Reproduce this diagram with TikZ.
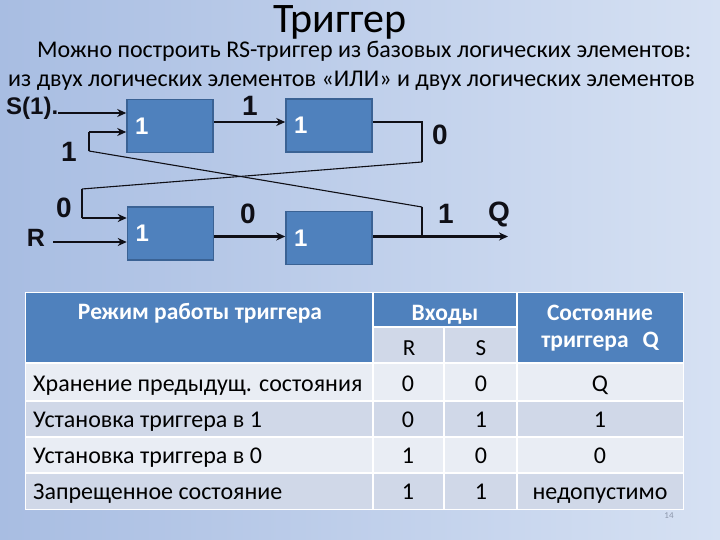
\documentclass[tikz,border=0pt]{standalone}
\usepackage{fontspec}
\setmainfont{Carlito}
\newfontfamily\labfont{Liberation Sans}
\usetikzlibrary{arrows.meta}
\definecolor{bgL}{RGB}{168,189,226}
\definecolor{bgR}{RGB}{214,225,243}
\definecolor{boxfill}{RGB}{79,129,189}
\definecolor{boxline}{RGB}{58,98,148}
\definecolor{hdr}{RGB}{79,129,189}
\definecolor{bandA}{RGB}{233,237,244}
\definecolor{bandB}{RGB}{208,216,232}
\definecolor{ink}{RGB}{15,15,22}
\definecolor{pgnum}{RGB}{140,150,170}
\begin{document}
\begin{tikzpicture}[x=1pt,y=-1pt,
  gate/.style={draw=boxline, line width=1.5pt, fill=boxfill, minimum height=53pt,
    text width=70pt, inner xsep=8pt, inner ysep=0pt, align=left,
    font=\labfont\bfseries\fontsize{24}{24}\selectfont, text=white},
  arr/.style={draw=ink, line width=2.2pt, -{Stealth[length=9pt,width=8pt]}},
  wire/.style={draw=ink, line width=2pt},
  fbk/.style={draw=ink, line width=1.1pt},
  lbl/.style={font=\labfont\bfseries\fontsize{28}{28}\selectfont, text=ink, inner sep=0pt},
  cell/.style={font=\fontsize{24}{24}\selectfont, text=black, inner sep=0pt, anchor=base},
  hcell/.style={font=\bfseries\fontsize{23.5}{23.5}\selectfont, text=white, inner sep=0pt, anchor=base},
  subcell/.style={font=\fontsize{23}{23}\selectfont, text=black, inner sep=0pt, anchor=base},
  tline/.style={draw=white, line width=2pt},
]
\useasboundingbox (0,0) rectangle (720,540);
\shade[left color=bgL, right color=bgR] (0,0) rectangle (720,540);

% titles
\node[font=\fontsize{42}{42}\selectfont, anchor=base, text=black, inner sep=0pt] (title) at (340,33) {Триггер};
\node[font=\fontsize{24}{24}\selectfont, anchor=base west, text=black, inner sep=0pt] (sub1) at (37,58) {Можно построить RS-триггер из базовых логических элементов:};
\node[font=\fontsize{24}{24}\selectfont, anchor=base west, text=black, inner sep=0pt] (sub2) at (8,87) {из двух логических элементов «ИЛИ» и двух логических элементов};
\node[font=\labfont\bfseries\fontsize{24}{24}\selectfont, anchor=base west, text=ink, inner sep=0pt] (slab) at (6,115) {S(1).};

% gates
\node[gate, minimum width=86pt] (b1) at (170,126) {1};
\node[gate, minimum width=86pt] (b2) at (329,125.5) {1};
\node[gate, minimum width=86pt] (b3) at (170.5,233.5) {1};
\node[gate, minimum width=86pt] (b4) at (329,238) {1};

% coordinates
\coordinate (sin) at (58,113);
\coordinate (f1) at (89,132);
\coordinate (f1b) at (89,151);
\coordinate (o1) at ([yshift=4pt]b1.east);
\coordinate (o2) at ([yshift=3pt]b2.east);
\coordinate (c2) at (422,162);
\coordinate (k1) at (82,189);
\coordinate (i3) at (82,218);
\coordinate (rin) at (53,242);
\coordinate (o3) at ([yshift=-3pt]b3.east);
\coordinate (o4) at ([yshift=1.5pt]b4.east);
\coordinate (qend) at (508,236.5);
\coordinate (j) at (422,236.5);
\coordinate (jt) at (422,207);

% connectors
\draw[arr] (sin) -- (sin -| b1.west);
\draw[arr] (f1) -- (f1 -| b1.west);
\draw[arr] (o1) -- (o1 -| b2.west);
\draw[wire] (o2) -- (o2 -| c2) -- (c2);
\draw[fbk] (c2) -- (k1);
\draw[wire] (k1) -- (i3);
\draw[arr] (i3) -- (i3 -| b3.west);
\draw[arr] (rin) -- (rin -| b3.west);
\draw[arr] (o3) -- (o3 -| b4.west);
\draw[arr] (o4) -- (qend);
\draw[wire] (j) -- (jt);
\draw[fbk] (jt) -- (f1b);
\draw[wire] (f1b) -- (f1);

% labels
\node[lbl] (l1) at (250,105.5) {1};
\node[lbl] (l2) at (69,152) {1};
\node[lbl] (l3) at (440,135) {0};
\node[lbl] (l4) at (64,208) {0};
\node[lbl, font=\labfont\bfseries\fontsize{25}{25}\selectfont] (lR) at (36,238) {R};
\node[lbl] (l5) at (248,214) {0};
\node[lbl] (l6) at (446,214) {1};
\node[lbl] (lQ) at (499,214) {Q};

% table
\fill[hdr] (25,292) rectangle (683,363);
\fill[bandB] (373,327) rectangle (517,363);
\fill[bandA] (25,363) rectangle (683,401);
\fill[bandB] (25,401) rectangle (683,437);
\fill[bandA] (25,437) rectangle (683,473);
\fill[bandB] (25,473) rectangle (683,509);
\draw[tline] (373,292) -- (373,509);
\draw[tline] (517,292) -- (517,509);
\draw[tline] (444,327) -- (444,509);
\draw[tline] (373,327) -- (517,327);
\draw[tline] (25,363) -- (683,363);
\draw[tline] (25,401) -- (683,401);
\draw[tline] (25,437) -- (683,437);
\draw[tline] (25,473) -- (683,473);
\draw[draw=white, line width=1pt] (25,292) rectangle (683,509);

\node[hcell] (h1) at (200,319) {Режим работы триггера};
\node[hcell] (h2) at (445,320) {Входы};
\node[hcell] (h3) at (600,320) {Состояние};
\node[hcell] (h4) at (600,347) {триггера\hspace{14pt}Q};
\node[subcell] (hR) at (409,355) {R};
\node[subcell] (hS) at (481,355) {S};

\node[cell, anchor=base west] (r1) at (33,391) {Хранение предыдущ. состояния};
\node[cell, anchor=base west] (r2) at (33,427) {Установка триггера в 1};
\node[cell, anchor=base west] (r3) at (33,463) {Установка триггера в 0};
\node[cell, anchor=base west] (r4) at (33,499) {Запрещенное состояние};
\node[cell] (r1a) at (408,391) {0};
\node[cell] (r1b) at (481,391) {0};
\node[cell] (r1c) at (600,391) {Q};
\node[cell] (r2a) at (408,427) {0};
\node[cell] (r2b) at (481,427) {1};
\node[cell] (r2c) at (600,427) {1};
\node[cell] (r3a) at (408,463) {1};
\node[cell] (r3b) at (481,463) {0};
\node[cell] (r3c) at (600,463) {0};
\node[cell] (r4a) at (408,499) {1};
\node[cell] (r4b) at (481,499) {1};
\node[cell] (r4c) at (600,499) {недопустимо};

\node[font=\fontsize{9}{9}\selectfont, text=pgnum, anchor=base, inner sep=0pt] (pg) at (669,518) {14};
\end{tikzpicture}
\end{document}
